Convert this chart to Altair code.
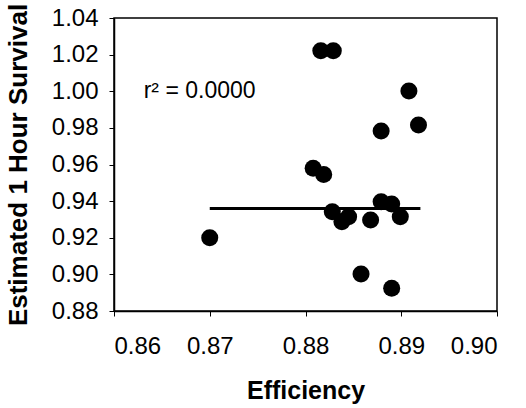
import altair as alt
import pandas as pd

efficiency = [0.8700, 0.8816, 0.8829, 0.8908, 0.8918, 0.8879, 0.8808, 0.8819,
              0.8828, 0.8838, 0.8845, 0.8868, 0.8879, 0.8890, 0.8899, 0.8858, 0.8890]
survival = [0.9200, 1.0221, 1.0221, 1.0001, 0.9816, 0.9783, 0.9579, 0.9545,
            0.9342, 0.9288, 0.9315, 0.9297, 0.9397, 0.9384, 0.9315, 0.9002, 0.8924]

fit_x = [0.8700, 0.8920]
fit_y = [0.9360, 0.9360]

x_ticks = [0.86, 0.87, 0.88, 0.89, 0.90]
y_ticks = [0.88, 0.90, 0.92, 0.94, 0.96, 0.98, 1.00, 1.02, 1.04]

label_text = ["r\u00b2 = 0.0000"]
label_x = [0.8631]
label_y = [1.0000]

FONT = "Liberation Sans"

pts = pd.DataFrame({"Efficiency": efficiency, "Survival": survival})
fit = pd.DataFrame({"Efficiency": fit_x, "Survival": fit_y})
lab = pd.DataFrame({"Efficiency": label_x, "Survival": label_y, "t": label_text})

xs = alt.Scale(domain=[0.86, 0.90], nice=False, zero=False)
ys = alt.Scale(domain=[0.88, 1.04], nice=False, zero=False)

xax = alt.Axis(values=x_ticks, format=".2f", title="Efficiency",
               grid=False, tickSize=5, labelPadding=18, titlePadding=20,
               labelOverlap=False, titleFontSize=25)
yax = alt.Axis(values=y_ticks, format=".2f",
               title="Estimated 1 Hour Survival", grid=False, tickSize=5, labelPadding=11,
               titlePadding=20, labelOverlap=False, titleFontSize=26)

X = alt.X("Efficiency:Q", scale=xs, axis=xax)
Y = alt.Y("Survival:Q", scale=ys, axis=yax)

line = alt.Chart(fit).mark_line(color="black", strokeWidth=3).encode(x=X, y=Y)

points = alt.Chart(pts).mark_circle(size=290, color="black", opacity=1).encode(x=X, y=Y)

text = alt.Chart(lab).mark_text(align="left", baseline="middle", font=FONT,
                                fontSize=23, color="black").encode(
    x=X, y=Y, text="t:N",
)

chart = (line + points + text).properties(
    width=383, height=293,
    autosize=alt.AutoSizeParams(type="none"),
    padding={"left": 114, "top": 18, "right": 29, "bottom": 97},
).configure_view(stroke="black", strokeWidth=1.5).configure_axis(
    domainColor="black", domainWidth=1.5, tickColor="black", tickWidth=1,
    labelFont=FONT, labelFontSize=24, labelColor="black",
    titleFont=FONT, titleFontWeight="bold", titleColor="black",
)

chart.save("out.html", embed_options={"renderer": "svg", "actions": False})
